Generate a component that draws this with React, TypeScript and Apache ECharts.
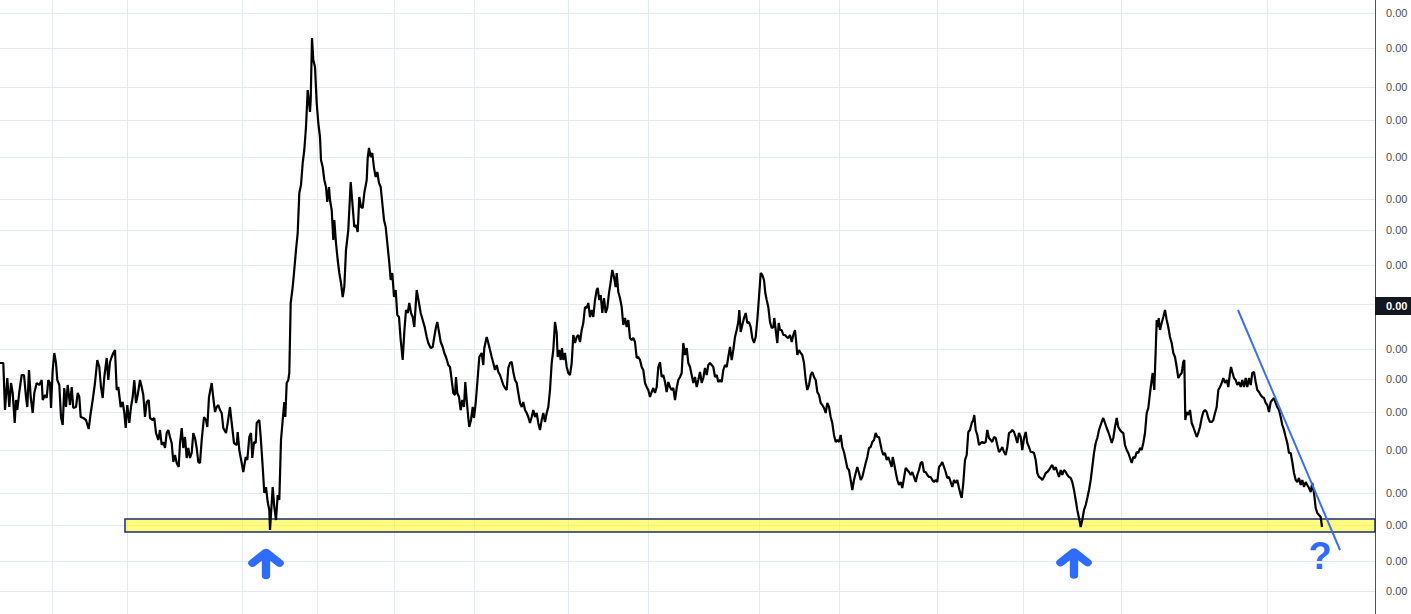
import { useEffect, useRef } from "react";
import * as echarts from "echarts";

// [time index, price in millionths]
const closes: [number, number][] = [
  [0, 251], [3.3, 251], [5, 204], [7.3, 236], [9.3, 207], [11, 231], [12.7, 221], [14.7, 191], [16, 214], [17.3, 204],
  [19.3, 222], [21.7, 239], [24, 239], [26, 217], [27.3, 207], [29, 244], [30.7, 217], [32.7, 201], [34.3, 221], [36.7, 231],
  [39.3, 229], [41.7, 234], [42.7, 214], [45, 219], [46.7, 216], [48.3, 234], [50, 231], [51, 206], [52.7, 244], [54.3, 261],
  [56, 251], [57.3, 234], [59.3, 229], [61, 197], [62.7, 189], [64.3, 226], [66, 207], [67.7, 229], [70, 209], [71.7, 227],
  [73.3, 206], [76, 207], [77.7, 221], [79.3, 217], [80.7, 197], [83.3, 196], [86, 194], [88.7, 185], [90.7, 201], [92.7, 214],
  [95, 231], [97.3, 254], [99.3, 247], [101, 227], [102.7, 216], [104.3, 237], [106.7, 256], [108.3, 234], [110, 252], [111.7, 257],
  [113.3, 261], [115, 264], [116.7, 224], [118.3, 227], [120.7, 207], [122.7, 212], [124.3, 201], [125.7, 186], [127.3, 209], [129.3, 191],
  [131, 207], [132.7, 217], [134.3, 234], [136, 211], [137.7, 219], [140, 234], [141.7, 227], [143.3, 219], [145, 197], [146.7, 212],
  [148.7, 214], [150, 196], [152.7, 194], [154.3, 196], [156, 181], [158.3, 174], [160, 184], [161.7, 169], [163.3, 172], [165, 166],
  [166.7, 181], [168.3, 184], [170, 177], [171.7, 171], [173.3, 152], [175, 159], [176.7, 151], [178.7, 147], [180, 171], [181.7, 186],
  [183.3, 166], [185, 177], [186.7, 156], [188.3, 166], [190, 156], [191.7, 161], [193.3, 181], [195, 176], [196.7, 166], [198.3, 152],
  [200, 151], [201.7, 174], [204, 197], [206, 194], [207.3, 187], [209, 217], [211.7, 231], [213.3, 216], [215, 202], [216.7, 207],
  [218.3, 209], [220, 204], [221.7, 201], [223.3, 186], [226, 181], [227.7, 191], [230, 207],
  [231.7, 191], [234, 171], [236.7, 169], [237.7, 182], [239.3, 164], [241.7, 151], [243.3, 142], [245.7, 157], [247.3, 154], [249.3, 177],
  [251, 181], [252.3, 156], [254, 172], [255.7, 171], [256.7, 191], [259.3, 194], [260.7, 177], [262.7, 147], [264.3, 121], [266, 127],
  [267.7, 112], [269.3, 104], [270, 84], [271.7, 111], [272.7, 127], [274.3, 107], [276, 94], [277.7, 119], [279.3, 114], [281, 174],
  [282.7, 194], [284.3, 212], [285.3, 197], [286.7, 231], [288.3, 234], [289.3, 241], [290.7, 311], [292.7, 327], [294, 341], [296, 364],
  [297.7, 381], [299.3, 421], [301, 429], [302.7, 451], [304.3, 464], [306, 487], [307.7, 524], [309, 511], [310, 502], [310.7, 514],
  [312, 576], [313.3, 554], [315, 547], [316.7, 511], [318.3, 491], [320, 477], [321, 454], [322.7, 447], [324.3, 434], [326, 427],
  [327.3, 412], [329, 427], [330, 414], [331.7, 404], [333.3, 374], [334.3, 394], [336, 371], [337.7, 354], [339.3, 341], [341, 331],
  [342.7, 317], [344.3, 327], [346, 364], [348.3, 384], [350.7, 432], [352.7, 407], [354.3, 387], [356, 389], [357.7, 382], [359.3, 417],
  [361, 407], [362.7, 406], [364.3, 421], [366.7, 434], [367.7, 456], [369, 466], [370.7, 457], [372.3, 461], [374, 446], [375.7, 437],
  [377.3, 442], [379, 431], [380.7, 427], [382.7, 407], [384, 394], [385.7, 387], [387.7, 367], [389.3, 351], [390.7, 334], [392.3, 341],
  [394, 317], [395.7, 324], [397.3, 299], [399, 297], [400.7, 274], [402.7, 254], [404.3, 282], [406, 304], [407.7, 301], [409.3, 311],
  [411, 301], [412.7, 297], [414.3, 287], [416.7, 324], [419, 311], [420.7, 301], [422.7, 294], [424.7, 287], [426.7, 277], [428.3, 271],
  [430.7, 266], [432.7, 267], [434.3, 277], [436, 287], [437.3, 292], [439, 282], [440.7, 272], [442.7, 267], [444.3, 261], [446, 257],
  [448.3, 249], [450, 247], [451.7, 234], [453.3, 221], [455, 219], [456, 237], [457.3, 221], [459, 217], [460.7, 204], [462.3, 214],
  [464, 207], [465.3, 232], [466.7, 214], [468.3, 196], [469.3, 187], [471, 194], [472.7, 207], [474, 196], [475.7, 211], [477.3, 231],
  [479.3, 257], [481.7, 261], [483.3, 249], [484.3, 266], [486.7, 277], [488.3, 271], [490, 264], [491.7, 257], [493.3, 251], [495, 244],
  [496.7, 249], [498.3, 242], [500, 239], [501.7, 234], [503.3, 229], [505, 226], [506.7, 224], [508.3, 246], [510, 251], [511.7, 252],
  [513.3, 242], [515, 234], [516.7, 231], [518.3, 221], [520, 211], [521.7, 207], [523.3, 212], [525, 204], [526.7, 201], [528.3, 197],
  [530, 191], [531.7, 197], [533.3, 204], [535, 197], [536.7, 201], [538.3, 191], [540, 184], [541.7, 194], [543.3, 201], [545, 192],
  [546.7, 201], [548.3, 207], [550, 224], [551.7, 251], [553.3, 264], [555, 292], [556.7, 281], [557.7, 257], [559.3, 264], [560.7, 254],
  [562, 266], [563.3, 254], [565, 261], [566.7, 247], [568.3, 241], [570, 239], [571.7, 251], [573.3, 279], [575, 271], [576.7, 277],
  [578.3, 279], [580, 272], [581.7, 284], [583.3, 291], [585, 307], [586.7, 306], [588.3, 311], [590, 297], [591.7, 304], [593.3, 297],
  [595, 314], [596.7, 324], [597.7, 326], [599.3, 314], [600.7, 319], [602.3, 301], [604, 316], [605.7, 301], [607.3, 306], [609, 321],
  [610.7, 332], [612.3, 344], [614, 337], [615.7, 327], [616.7, 341], [618.3, 322], [620, 316], [621.7, 307], [623.3, 289], [625, 296],
  [626.7, 287], [628.3, 294], [630, 276], [631.7, 274], [633.3, 276], [635, 272], [636.7, 256], [638.3, 257], [640, 254], [641.7, 247],
  [643.3, 244], [645, 231], [646.7, 227], [648.3, 224], [650, 217], [651.7, 222], [653.3, 226], [655, 221], [656.7, 227], [658.3, 247],
  [660, 252], [661.7, 237], [663.3, 239], [665, 232], [666.7, 222], [668.3, 232],
  [670, 227], [671.7, 224], [673.3, 226], [675, 214], [676.7, 226], [678.3, 234], [680, 237], [681.7, 241], [683.3, 271], [685, 259],
  [686.7, 266], [688.3, 251], [690, 247], [691.7, 239], [693.3, 231], [695, 237], [696.7, 227], [698.3, 234], [700, 242], [701.7, 231],
  [703.3, 236], [705, 246], [706.7, 239], [708.3, 249], [710, 251], [711.7, 249], [713.3, 247], [715, 237], [716.7, 239], [718.3, 232],
  [720, 234], [721.7, 232], [723.3, 244], [725, 249], [726.7, 247], [728.3, 257], [730, 267], [731.7, 254], [733.3, 264], [735, 277],
  [736.7, 284], [738.3, 292], [739.3, 304], [740.7, 282], [742.3, 289], [744, 296], [745.7, 301], [747.3, 291], [749, 292], [750.7, 287],
  [752.3, 276], [754, 271], [755.7, 277], [757.3, 294], [759, 317], [760.7, 341], [762.3, 339], [764, 334], [765.3, 321], [766.7, 314],
  [768.3, 307], [770, 292], [771.7, 286], [773.3, 287], [774.3, 296], [775.7, 284], [777.3, 271], [778.7, 291], [780, 284], [781.7, 284],
  [783.3, 279], [785, 279], [786.7, 277], [788.3, 276], [790, 279], [791.7, 272], [793.3, 279], [795, 284], [796, 274], [797.3, 259],
  [799, 264], [800.7, 261], [802.3, 259], [804, 251], [805.7, 234], [807.3, 224], [809, 229], [810.7, 239], [812.3, 242], [814, 237],
  [815.7, 234], [817.3, 222], [819, 219], [820.7, 211], [822.3, 209], [824, 206], [825.7, 201], [827.3, 211], [829, 207], [830.7, 197],
  [832.3, 191], [834, 179], [835.7, 172], [837.3, 174], [839, 172], [840.7, 179], [842.3, 167], [844, 162], [845.7, 154], [847.3, 146],
  [849, 144], [850.7, 134], [852.3, 124], [854, 134], [855.7, 141], [857.3, 147], [859, 141], [860.7, 134], [862.3, 137], [864, 144],
  [865.7, 151], [867.3, 157], [869, 166], [870.7, 167], [872.3, 172], [874, 174], [875.7, 181], [877.3, 177], [879, 177],
  [881.7, 164], [883.3, 159], [885, 161], [886.7, 154], [888.3, 157], [890, 152], [891.7, 147], [892.7, 157], [894, 151], [895.7, 142],
  [897.3, 134], [899, 129], [900.7, 132], [902.3, 126], [904, 136], [905.7, 146], [907.3, 144], [909, 142], [910.7, 139], [912.3, 142],
  [914, 137], [915.7, 132], [917.3, 139], [919, 144], [920.7, 151], [922.3, 152], [924, 142], [925.7, 142], [927.3, 139], [929, 137],
  [930.7, 137], [932.3, 134], [934, 132], [935.7, 134], [937.3, 132], [939, 147], [940.7, 149], [942.3, 152], [944, 147], [945.7, 142],
  [947.3, 136], [949, 137], [950.7, 132], [952.3, 127], [954, 134], [955.7, 131], [957.3, 134], [959, 126], [960.7, 119], [961.7, 116],
  [963.3, 131], [965, 154], [966.7, 159], [968.3, 182], [970, 184], [971.7, 191], [973.3, 194], [974.3, 199], [975.7, 184], [977.3, 179],
  [979, 169], [980.7, 171], [982.3, 172], [984, 171], [985.7, 172], [987.3, 184], [989, 176], [990.7, 174], [992.3, 172], [994, 177],
  [995.7, 176], [997.3, 169], [999, 162], [1000.7, 164], [1002.3, 167], [1004, 162], [1005.7, 159], [1007.3, 167], [1009, 181], [1010.7, 182],
  [1012.3, 184], [1014, 182], [1015.7, 177], [1017.3, 171], [1019, 181], [1020.7, 177], [1022.3, 164], [1024, 176], [1025.7, 182], [1027.3, 171],
  [1029, 167], [1030.7, 162], [1032.3, 162], [1034, 161], [1035.7, 154], [1037.3, 141], [1039, 137], [1040.7, 136], [1042.3, 134], [1044, 137],
  [1045.7, 141], [1047.3, 142], [1049, 144], [1050.7, 147], [1052.3, 149], [1054, 144], [1055.7, 147], [1057.3, 142], [1059, 137], [1060.7, 144],
  [1062.3, 139], [1064, 144], [1065.7, 142], [1067.3, 139], [1069, 137], [1070.7, 136], [1072.3, 132], [1074, 124], [1075.7, 114], [1077.3, 104],
  [1079, 96], [1080.7, 87], [1082.3, 94], [1084, 104], [1085.7, 109], [1087.3, 116], [1089, 124], [1090.7, 134], [1092.3, 147], [1094, 161],
  [1095.7, 171], [1097.3, 176], [1099, 184],
  [1101.7, 192], [1103.3, 196], [1105, 191], [1106.7, 186], [1108.3, 182], [1110, 177], [1111.7, 171], [1113.3, 176], [1115, 187], [1116.7, 196],
  [1118.3, 187], [1120, 184], [1121.7, 182], [1123.3, 181], [1125, 169], [1126.7, 164], [1128.3, 161], [1130, 156], [1131.7, 151], [1133.3, 157],
  [1135, 156], [1136.7, 162], [1138.3, 161], [1140, 166], [1141.7, 164], [1143.3, 171], [1145, 181], [1146.7, 201], [1148.3, 206], [1150, 221],
  [1151.7, 234], [1152.7, 241], [1154.3, 224], [1155.7, 264], [1156.7, 294], [1157.7, 287], [1158.7, 296], [1160, 284], [1161.7, 291], [1163.3, 297],
  [1165, 304], [1166.7, 294], [1168.3, 287], [1170, 277], [1171.7, 271], [1173.3, 261], [1175, 257], [1176.7, 247], [1178.3, 236], [1180, 239],
  [1181.7, 241], [1183.3, 252], [1184.3, 254], [1185.3, 194], [1186.7, 202], [1188.3, 199], [1190, 204], [1191.7, 191], [1193.3, 187], [1195, 182],
  [1196.7, 177], [1198.3, 181], [1200, 187], [1201.7, 196], [1203.3, 202], [1205, 204], [1206.7, 202], [1208.3, 196], [1210, 192], [1211.7, 192],
  [1213.3, 194], [1215, 201], [1216.7, 207], [1218.3, 224], [1220, 227], [1221.7, 231], [1223.3, 236], [1225, 231], [1226.7, 234], [1228.3, 227],
  [1230, 241], [1231, 247], [1232.3, 242], [1234, 236], [1235.7, 234], [1237.3, 229], [1239, 232], [1240.7, 227], [1242.3, 234], [1244, 227],
  [1245.7, 236], [1247.3, 227], [1249, 236], [1250.7, 229], [1252.3, 241], [1254, 242], [1255.7, 232], [1257.3, 224], [1259, 222], [1260.7, 219],
  [1262.3, 217], [1264, 216], [1265.7, 211], [1267.3, 209], [1269, 202], [1270.7, 212], [1272.3, 214], [1274, 216], [1275.7, 211], [1277.3, 207],
  [1279, 204], [1280.7, 197], [1282.3, 189], [1284, 184], [1285.7, 177], [1287.3, 171], [1289, 161], [1290.7, 161], [1292.3, 152], [1294, 141],
  [1295.7, 134], [1297.3, 132], [1299, 136], [1300.7, 129], [1302.3, 134], [1304, 127], [1305.7, 132], [1307.3, 129], [1309, 126], [1310.7, 122],
  [1312.3, 131], [1314, 121], [1315.7, 106], [1317.3, 101], [1319, 99], [1320.7, 97], [1322, 87],
];

const priceLevels = [601, 566, 527, 494, 457, 415, 384, 349, 310, 265, 235, 202, 164, 121, 89, 53, 23];
const timeLevels = [52, 127, 242, 317, 394, 474, 568, 648, 759, 839, 937, 1023, 1121, 1267];
const markedPrice = 308;
const supportBand: [number, number] = [82, 95];
const supportStart = 125;
const trendLine: [number, number][] = [[1238, 304], [1340, 64]];
const arrowMarks: [number, number][] = [[266, 50], [1074, 50.5]];
const questionMark: [number, number] = [1320, 58.5];

const T_MAX = 1375;
const P_MAX = 614;

const fmtPrice = (v: number) => (v / 1e6).toFixed(2);

const ARROW =
  "path://M20.6 0.95L33.6 11.95Q36.65 14.53 34.05 17.6Q31.45 20.63 28.4 18.05L22 12.63L22 28Q22 32 18 32Q14 32 14 28L14 12.63L7.6 18.05Q4.55 20.63 1.95 17.6Q-0.65 14.53 2.4 11.95L15.4 0.95Q18 -0.95 20.6 0.95Z";

const FONT = "'Liberation Sans', Arial, sans-serif";
const BLUE = "#2e6bff";

export default function App() {
  const ref = useRef<HTMLDivElement | null>(null);

  useEffect(() => {
    document.body.style.margin = "0";
    const chart = echarts.init(ref.current!, undefined, { renderer: "svg" });

    // the grid line under the marked price keeps its line but not its label
    const levelLines = priceLevels.map((v) =>
      Math.abs(v - markedPrice) < 5 ? { yAxis: v, label: { show: false } } : { yAxis: v }
    );
    const timeLines = timeLevels.map((t) => ({ xAxis: t, label: { show: false } }));

    chart.setOption({
      animation: false,
      backgroundColor: "#ffffff",
      grid: { left: 0, right: 36, top: 0, bottom: 0 },
      xAxis: { type: "value", min: 0, max: T_MAX, show: false },
      yAxis: {
        type: "value",
        position: "right",
        min: 0,
        max: P_MAX,
        axisLine: { show: true, onZero: false, lineStyle: { color: "#50535e", width: 1 } },
        axisTick: { show: false },
        axisLabel: { show: false },
        splitLine: { show: false },
      },
      series: [
        {
          type: "line",
          name: "grid",
          data: [],
          silent: true,
          markLine: {
            silent: true,
            z: 1,
            symbol: ["none", "none"],
            lineStyle: { color: "#e3eaf1", width: 1, type: "solid" },
            label: {
              show: true,
              position: "end",
              distance: 11,
              color: "#4f4f55",
              fontSize: 11,
              fontFamily: FONT,
              formatter: (p: any) => fmtPrice(p.value),
            },
            emphasis: { disabled: true },
            data: [
              ...levelLines,
              ...timeLines,
              {
                yAxis: markedPrice,
                lineStyle: { color: "rgba(0,0,0,0)", width: 0 },
                label: {
                  show: true,
                  distance: 0,
                  backgroundColor: "#131722",
                  color: "#ffffff",
                  fontWeight: "bold",
                  padding: [4, 6, 3, 11],
                },
              },
            ],
          },
        },
        {
          type: "line",
          name: "close",
          data: closes,
          showSymbol: false,
          z: 3,
          lineStyle: { color: "#000000", width: 2.2 },
          itemStyle: { color: "#000000" },
          markArea: {
            silent: true,
            z: 2,
            itemStyle: { color: "rgba(255, 250, 0, 0.5)", borderColor: "#1c2d70", borderWidth: 1.5 },
            data: [[{ coord: [supportStart, supportBand[1]] }, { coord: [T_MAX, supportBand[0]] }]],
          },
          markLine: {
            silent: true,
            z: 5,
            symbol: ["none", "none"],
            label: { show: false },
            lineStyle: { color: "#3b6ef0", width: 2, type: "solid" },
            data: [[{ coord: trendLine[0] }, { coord: trendLine[1] }]],
          },
          markPoint: {
            silent: true,
            z: 6,
            data: [
              ...arrowMarks.map((c) => ({
                coord: c,
                symbol: ARROW,
                symbolSize: [36, 33],
                symbolKeepAspect: true,
                itemStyle: { color: BLUE },
                label: { show: false },
              })),
              {
                coord: questionMark,
                symbol: "circle",
                symbolSize: 1,
                itemStyle: { color: "rgba(0,0,0,0)" },
                label: {
                  show: true,
                  position: "inside",
                  formatter: "?",
                  color: BLUE,
                  fontSize: 38,
                  fontWeight: "bold",
                  fontFamily: FONT,
                },
              },
            ],
          },
        },
      ],
    });

    return () => chart.dispose();
  }, []);

  return <div ref={ref} style={{ width: 1411, height: 614 }} />;
}
